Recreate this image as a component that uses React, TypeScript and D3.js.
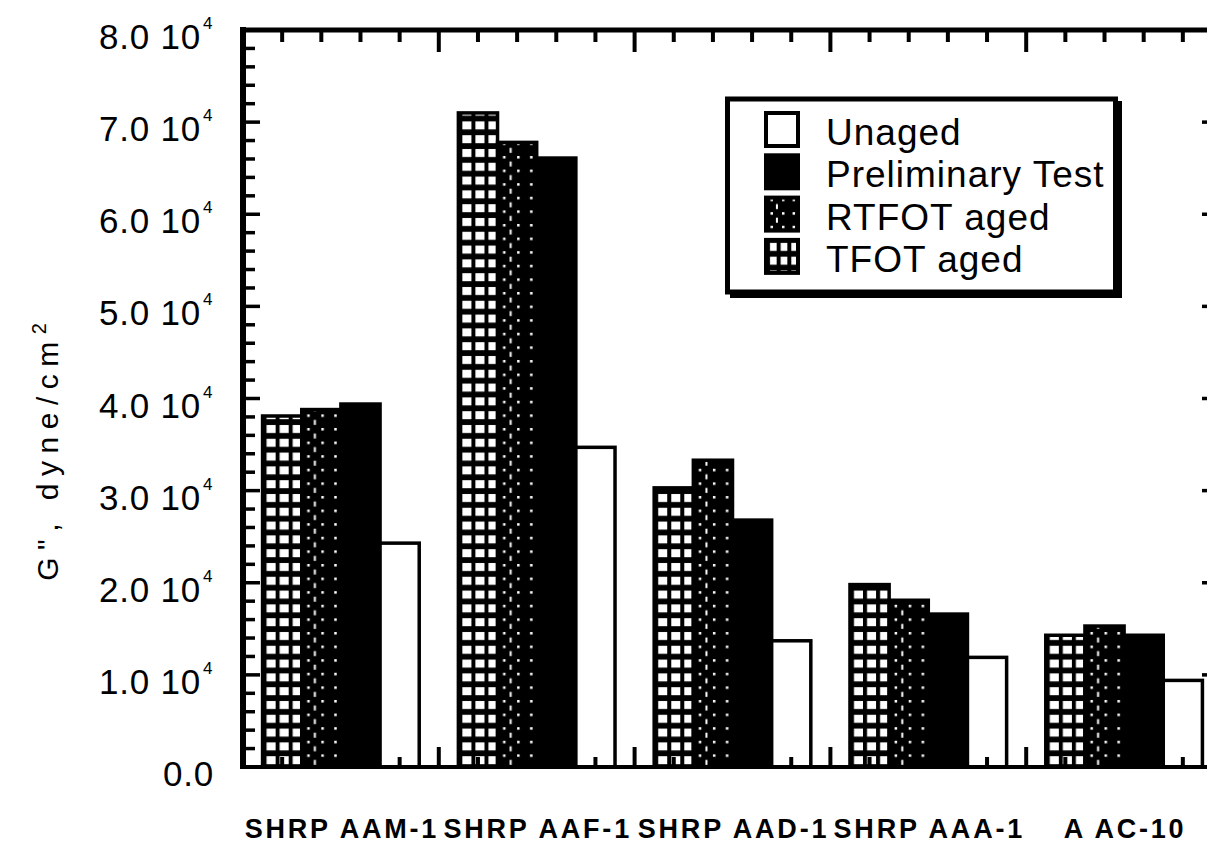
import React, { useEffect, useRef } from 'react';
import * as d3 from 'd3';

const categories = ['SHRP AAM-1', 'SHRP AAF-1', 'SHRP AAD-1', 'SHRP AAA-1', 'A AC-10'];
const barOrder = ['TFOT aged', 'RTFOT aged', 'Preliminary Test', 'Unaged'];
const tfotValues = [38100, 71000, 30300, 19800, 14300];
const rtfotValues = [38800, 67800, 33300, 18100, 15300];
const prelimValues = [39400, 66100, 26800, 16600, 14300];
const unagedValues = [24300, 34700, 13700, 11900, 9400];
const legendOrder = ['Unaged', 'Preliminary Test', 'RTFOT aged', 'TFOT aged'];
const yMajorTicks = [0, 10000, 20000, 30000, 40000, 50000, 60000, 70000, 80000];
const yTickLabels = ['0.0', '1.0', '2.0', '3.0', '4.0', '5.0', '6.0', '7.0', '8.0'];

const W = 1207;
const H = 843;
const FONT = "'Liberation Sans', Arial, Helvetica, sans-serif";

export default function App() {
  const ref = useRef<SVGSVGElement | null>(null);

  useEffect(() => {
    const svg = d3.select(ref.current);
    svg.selectAll('*').remove();

    const left = 243, right = 1222, top = 30, bottom = 767;
    const x = d3.scaleBand<string>().domain(categories).range([left, right]).paddingInner(0).paddingOuter(0);
    const xs = d3.scaleBand<string>().domain(barOrder).range([0, x.bandwidth()]).paddingInner(0).paddingOuter(0.5);
    const y = d3.scaleLinear().domain([0, 80000]).range([bottom, top]);
    const bw = xs.bandwidth();

    const valuesFor: Record<string, number[]> = {
      'TFOT aged': tfotValues,
      'RTFOT aged': rtfotValues,
      'Preliminary Test': prelimValues,
      'Unaged': unagedValues,
    };

    const defs = svg.append('defs');
    let pid = 0;
    const makePattern = (kind: string, px: number, py: number, w: number) => {
      const id = 'pat' + (pid++);
      if (kind === 'TFOT aged') {
        const cw = w / 3;
        const p = defs.append('pattern').attr('id', id).attr('patternUnits', 'userSpaceOnUse')
          .attr('x', px).attr('y', py).attr('width', cw).attr('height', 13.8);
        p.append('rect').attr('width', cw).attr('height', 13.8).attr('fill', '#000');
        p.append('rect').attr('x', 4).attr('y', 3).attr('width', cw - 3.8).attr('height', 8).attr('fill', '#fff');
      } else {
        const p = defs.append('pattern').attr('id', id).attr('patternUnits', 'userSpaceOnUse')
          .attr('x', px).attr('y', py).attr('width', w).attr('height', 13.6);
        p.append('rect').attr('width', w).attr('height', 13.6).attr('fill', '#000');
        [w * 0.14, w * 0.5, w * 0.83].forEach((dx) => {
          p.append('rect').attr('x', dx).attr('y', 1).attr('width', 2.5).attr('height', 2.5).attr('fill', '#fff');
        });
        p.append('rect').attr('x', w * 0.31).attr('y', 6.5).attr('width', 2).attr('height', 5).attr('fill', '#fff');
      }
      return `url(#${id})`;
    };

    const fillFor = (s: string, px: number, py: number, w: number) => {
      if (s === 'Unaged') return '#fff';
      if (s === 'Preliminary Test') return '#000';
      return makePattern(s, px, py, w);
    };

    svg.append('rect').attr('width', W).attr('height', H).attr('fill', '#fff');

    // bars
    const g = svg.append('g');
    categories.forEach((c, i) => {
      barOrder.forEach((s) => {
        const bx = (x(c) as number) + (xs(s) as number);
        const v = valuesFor[s][i];
        const by = y(v);
        g.append('rect')
          .attr('x', bx).attr('y', by)
          .attr('width', bw).attr('height', bottom - by)
          .attr('fill', fillFor(s, bx, bottom, bw))
          .attr('stroke', '#000').attr('stroke-width', 3.5);
      });
    });

    // axes frame
    const ax = svg.append('g').attr('stroke', '#000');
    ax.append('line').attr('x1', left).attr('x2', left).attr('y1', top - 3).attr('y2', bottom + 2).attr('stroke-width', 6);
    ax.append('line').attr('x1', right).attr('x2', right).attr('y1', top - 3).attr('y2', bottom + 2).attr('stroke-width', 6);
    ax.append('line').attr('x1', left - 3).attr('x2', right + 3).attr('y1', top).attr('y2', top).attr('stroke-width', 5);
    ax.append('line').attr('x1', left - 3).attr('x2', right + 3).attr('y1', bottom).attr('y2', bottom).attr('stroke-width', 4);

    // y ticks
    const yMinor = d3.range(0, 80001, 2000);
    yMinor.forEach((v) => {
      const major = v % 10000 === 0;
      const len = major ? 17 : 12;
      const yy = y(v);
      if (v === 0 || v === 80000) return;
      ax.append('line').attr('x1', left).attr('x2', left + len).attr('y1', yy).attr('y2', yy).attr('stroke-width', 3.5);
      ax.append('line').attr('x1', right).attr('x2', right - (major ? 20 : 10)).attr('y1', yy).attr('y2', yy).attr('stroke-width', 3.5);
    });

    // x ticks (top and bottom)
    const step = x.step() / 5;
    d3.range(1, categories.length * 5).forEach((k) => {
      const xx = left + k * step;
      const major = k % 5 === 0;
      ax.append('line').attr('x1', xx).attr('x2', xx).attr('y1', top).attr('y2', top + (major ? 22 : 12)).attr('stroke-width', 4);
      ax.append('line').attr('x1', xx).attr('x2', xx).attr('y1', bottom).attr('y2', bottom - (major ? 20 : 10)).attr('stroke-width', 4);
    });

    // y tick labels
    const tl = svg.append('g').attr('font-family', FONT).attr('fill', '#000');
    yMajorTicks.forEach((v, i) => {
      const yy = y(v);
      if (v === 0) {
        tl.append('text').attr('x', 214).attr('y', yy + 19).attr('text-anchor', 'end')
          .attr('font-size', 35).attr('letter-spacing', 0.8).text(yTickLabels[i]);
      } else {
        tl.append('text').attr('x', 201).attr('y', yy + 19).attr('text-anchor', 'end')
          .attr('font-size', 35).attr('letter-spacing', 0.8).text(yTickLabels[i] + ' 10');
        tl.append('text').attr('x', 203).attr('y', yy - 1).attr('font-size', 17).text('4');
      }
    });

    // x labels
    categories.forEach((c) => {
      tl.append('text').attr('x', (x(c) as number) + x.bandwidth() / 2 + 1).attr('y', 838)
        .attr('text-anchor', 'middle').attr('font-size', 27).attr('font-weight', 'bold')
        .attr('letter-spacing', 2.8).text(c);
    });

    // y title
    const yt = tl.append('text').attr('transform', 'translate(58,452) rotate(-90)')
      .attr('text-anchor', 'middle').attr('font-size', 30).attr('letter-spacing', 7.5);
    yt.append('tspan').text('G", dyne/cm');
    yt.append('tspan').attr('dy', -12).attr('font-size', 20).attr('letter-spacing', 0).text('2');

    // legend
    const lg = svg.append('g');
    lg.append('rect').attr('x', 730).attr('y', 101).attr('width', 392).attr('height', 197).attr('fill', '#000');
    lg.append('rect').attr('x', 727.5).attr('y', 99).attr('width', 388).attr('height', 193)
      .attr('fill', '#fff').attr('stroke', '#000').attr('stroke-width', 5);
    legendOrder.forEach((s, i) => {
      const base = 145 + i * 42.3;
      const sx = 766, sw = 32, sh = 33;
      const sy = base - 32;
      lg.append('rect').attr('x', sx).attr('y', sy).attr('width', sw).attr('height', sh)
        .attr('fill', fillFor(s, sx, sy, sw)).attr('stroke', '#000').attr('stroke-width', 4);
      lg.append('text').attr('x', 826).attr('y', base).attr('font-family', FONT)
        .attr('font-size', 37).attr('letter-spacing', 1).attr('fill', '#000').text(s);
    });
  }, []);

  return (
    <svg ref={ref} width={W} height={H}
      style={{ position: 'absolute', left: 0, top: 0, display: 'block', overflow: 'hidden' }} />
  );
}
